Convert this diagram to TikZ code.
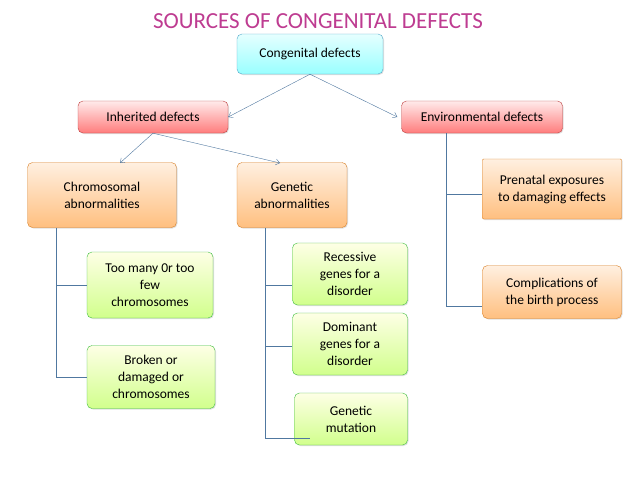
\documentclass[tikz,border=0pt]{standalone}
\usepackage{fontspec}
\setmainfont{Carlito}
\usetikzlibrary{arrows.meta,shadows}
\definecolor{ttl}{RGB}{190,60,145}
\definecolor{ln}{RGB}{80,120,160}
\tikzset{
 bx/.style={draw=#1!60!black, rounded corners=5pt, align=center, font=\fontsize{13.5}{17}\selectfont, inner sep=2pt, drop shadow={opacity=0.25,shadow xshift=1pt,shadow yshift=-1pt}},
 blu/.style={bx=cyan, top color=cyan!10, bottom color=cyan!40, draw=cyan!60!gray},
 pnk/.style={bx=red, top color=red!8, bottom color=red!35!pink, draw=red!50!gray},
 org/.style={bx=orange, top color=orange!12, bottom color=orange!50, draw=orange!70!gray},
 grn/.style={bx=green, top color=green!5!yellow!10, bottom color=green!40!yellow!45, draw=green!50!gray},
 arr/.style={draw=ln, -{Straight Barb[length=4pt,width=6pt]}, thin},
 con/.style={draw=ln, thin}
}
\begin{document}
\begin{tikzpicture}[x=1pt,y=-1pt]
\useasboundingbox (0,0) rectangle (638,479);
\fill[white] (0,0) rectangle (638,479);
\node[text=ttl, font=\fontsize{23}{26}\selectfont] (title) at (318,21) {SOURCES OF CONGENITAL DEFECTS};
\node[blu, minimum width=146pt, minimum height=40pt] (cong) at (310,54) {Congenital defects};
\node[pnk, minimum width=150pt, minimum height=32pt] (inh) at (153,117) {Inherited defects};
\node[pnk, minimum width=161pt, minimum height=32pt] (env) at (482,117) {Environmental defects};
\node[org, minimum width=149pt, minimum height=65pt] (chr) at (102,195) {Chromosomal\\abnormalities};
\node[org, minimum width=110pt, minimum height=65pt] (gen) at (292,195) {Genetic\\abnormalities};
\node[org, rounded corners=1pt, minimum width=139pt, minimum height=60pt] (pre) at (552,189) {Prenatal exposures\\to damaging effects};
\node[org, minimum width=139pt, minimum height=53pt] (comp) at (552,292) {Complications of\\the birth process};
\node[grn, minimum width=126pt, minimum height=66pt] (too) at (150,285) {Too many 0r too\\few\\chromosomes};
\node[grn, minimum width=128pt, minimum height=63pt] (brk) at (151,377) {Broken or\\damaged or\\chromosomes};
\node[grn, minimum width=115pt, minimum height=62pt] (rec) at (350,274) {Recessive\\genes for a\\disorder};
\node[grn, minimum width=115pt, minimum height=62pt] (dom) at (350,344) {Dominant\\genes for a\\disorder};
\node[grn, minimum width=113pt, minimum height=52pt] (mut) at (351,419) {Genetic\\mutation};
\draw[arr] (cong.south) -- (inh.east);
\draw[arr] (cong.south) -- ([xshift=-4pt]env.west);
\draw[arr] (inh.south) -- (120,163);
\draw[arr] (inh.south) -- (280,163);
\coordinate (c1) at (56,228);
\draw[con] (c1) -- (56,377) -- (brk.west);
\draw[con] (56,285) -- (too.west);
\coordinate (g1) at (265,228);
\draw[con] (g1) -- (265,438) -- (310,438);
\draw[con] (265,285) -- (rec.west|-{(0,285)});
\draw[con] (265,346) -- (dom.west|-{(0,346)});
\coordinate (e1) at (446,133);
\draw[con] (e1) -- (446,306) -- (comp.west|-{(0,306)});
\draw[con] (446,194) -- (pre.west|-{(0,194)});
\end{tikzpicture}
\end{document}
